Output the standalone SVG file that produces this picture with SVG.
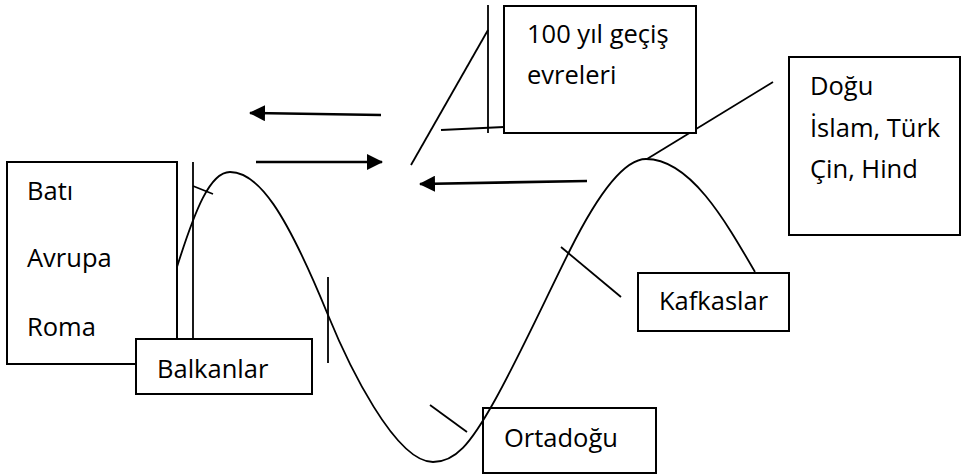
<svg xmlns="http://www.w3.org/2000/svg" width="962" height="476" viewBox="0 0 962 476">
<style>
.box{fill:#fff;stroke:#000;stroke-width:2}
.open{fill:none;stroke:#000;stroke-width:2}
.ln{fill:none;stroke:#000;stroke-width:1.8}
.arr{fill:none;stroke:#000;stroke-width:2.6}
text{font-family:"Open Sans","Noto Sans","Liberation Sans",sans-serif;font-size:25.5px;fill:#000}
</style>
<defs>
<marker id="ah" viewBox="0 0 16 16" refX="15" refY="8" markerWidth="16" markerHeight="16" markerUnits="userSpaceOnUse" orient="auto">
<path d="M0,0 L16,8 L0,16 Z" fill="#000"/>
</marker>
</defs>
<g id="bati">
<rect class="box" x="7" y="162" width="170" height="202"/>
<text x="27" y="200">Batı</text>
<text x="27" y="267">Avrupa</text>
<text x="27" y="336">Roma</text>
</g>
<g id="connectors">
<path class="ln" d="M177,267 C195,210 210,172 230,172 C258,172 285,210 328,315 C348,364 395,462 433,462 C455,462 470,445 495,400 C520,355 545,300 570,250 C600,190 625,159 646,159 C690,159 725,220 755,272"/>
<line class="ln" x1="193" y1="162" x2="193" y2="339"/>
<line class="ln" x1="193" y1="186" x2="213" y2="194"/>
<line class="ln" x1="328" y1="277" x2="328" y2="363"/>
<line class="ln" x1="430" y1="405" x2="467" y2="432"/>
<line class="ln" x1="561" y1="247" x2="621" y2="297"/>
<line class="ln" x1="647" y1="159" x2="773" y2="82"/>
<line class="ln" x1="488" y1="5" x2="488" y2="133"/>
<line class="ln" x1="488" y1="30" x2="411" y2="165"/>
<line class="ln" x1="441" y1="130" x2="504" y2="127"/>
<line class="arr" x1="381" y1="115" x2="250" y2="113" marker-end="url(#ah)"/>
<line class="arr" x1="256" y1="162" x2="382" y2="162" marker-end="url(#ah)"/>
<line class="arr" x1="587" y1="181" x2="420" y2="184" marker-end="url(#ah)"/>
</g>
<g id="balkanlar">
<rect class="box" x="136" y="339" width="176" height="55"/>
<text x="157" y="378">Balkanlar</text>
</g>
<g id="ortadogu">
<rect class="open" x="483" y="408" width="173" height="65"/>
<text x="504" y="447">Ortadoğu</text>
</g>
<g id="kafkaslar">
<rect class="box" x="638" y="273" width="151" height="58"/>
<text x="659" y="310">Kafkaslar</text>
</g>
<g id="gecis">
<rect class="box" x="504" y="6" width="192" height="127"/>
<text x="527" y="43">100 yıl geçiş</text>
<text x="527" y="84">evreleri</text>
</g>
<g id="dogu">
<rect class="box" x="789" y="57" width="171" height="178"/>
<text x="810" y="95">Doğu</text>
<text x="810" y="137">İslam, Türk</text>
<text x="810" y="178">Çin, Hind</text>
</g>
</svg>
